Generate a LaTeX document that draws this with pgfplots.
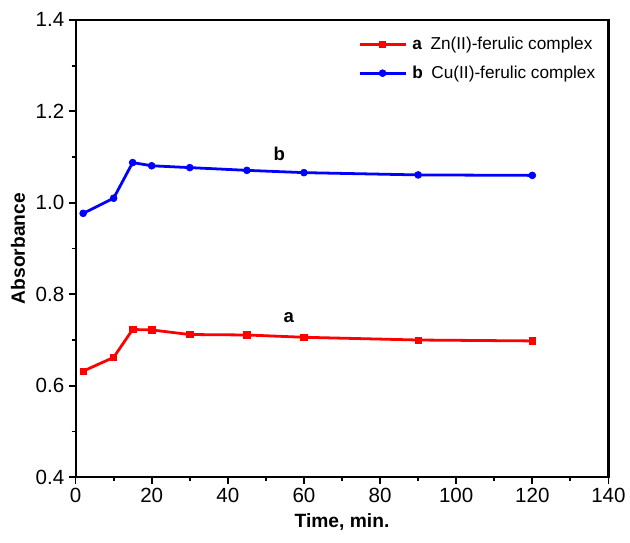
\documentclass[border=0pt]{standalone}
\usepackage{fontspec}
\setmainfont{Liberation Sans}
\usepackage{pgfplots}
\pgfplotsset{compat=1.18}
\begin{document}
\begin{tikzpicture}
\begin{axis}[
  scale only axis, clip=false,
  width=402pt, height=345pt,
  xmin=0, xmax=140, ymin=0.4, ymax=1.4,
  xtick={0,20,...,140}, ytick={0.4,0.6,...,1.4},
  minor x tick num=1, minor y tick num=1,
  axis line style={line width=1.6pt},
  tick style={line width=1.4pt, black},
  tick align=outside,
  major tick length=5pt, minor tick length=3pt,
  xtick pos=bottom, ytick pos=left,
  /pgf/number format/assume math mode=true,
  /pgf/number format/fixed, /pgf/number format/fixed zerofill,
  yticklabel style={/pgf/number format/precision=1},
  xticklabel style={/pgf/number format/precision=0},
  ticklabel style={font=\fontsize{15.5}{17}\selectfont},
  xlabel={\textbf{Time, min.}}, ylabel={\textbf{Absorbance}},
  label style={font=\fontsize{14.5}{16}\selectfont},
  xlabel style={at={(rel axis cs:0.5,-0.098)}, anchor=center},
  ylabel style={at={(rel axis cs:-0.108,0.5)}, anchor=center, rotate=0},
  legend style={draw=none, fill=none, at={(0.993,0.975)}, anchor=north east, font=\fontsize{13}{15}\selectfont, row sep=7pt, nodes={inner xsep=4pt}},
  legend cell align=left,
  legend image code/.code={\draw[#1] (0cm,0cm) -- (1.22cm,0cm); \draw[#1, only marks] plot coordinates {(0.61cm,0cm)};},
]
\addplot[red, line width=2.1pt, mark=square*, mark size=2.4pt, mark options={line width=0.5pt}] coordinates {
(2,0.632) (10,0.662) (15,0.723) (20,0.722) (30,0.712) (45,0.711) (60,0.706) (90,0.700) (120,0.698)};
\addlegendentry{\textbf{a}\enspace Zn(II)-ferulic complex}
\addplot[blue, line width=2.1pt, mark=*, mark size=2.6pt, mark options={line width=0.5pt}] coordinates {
(2,0.977) (10,1.010) (15,1.088) (20,1.081) (30,1.077) (45,1.071) (60,1.066) (90,1.061) (120,1.060)};
\addlegendentry{\textbf{b}\enspace Cu(II)-ferulic complex}
\node[font=\fontsize{14}{16}\selectfont\bfseries] at (axis cs:56,0.75) {a};
\node[font=\fontsize{14}{16}\selectfont\bfseries] at (axis cs:53.5,1.108) {b};
\path (rel axis cs:-0.1418,-0.1435) rectangle (rel axis cs:1.0336,1.0435);
\end{axis}
\end{tikzpicture}
\end{document}
